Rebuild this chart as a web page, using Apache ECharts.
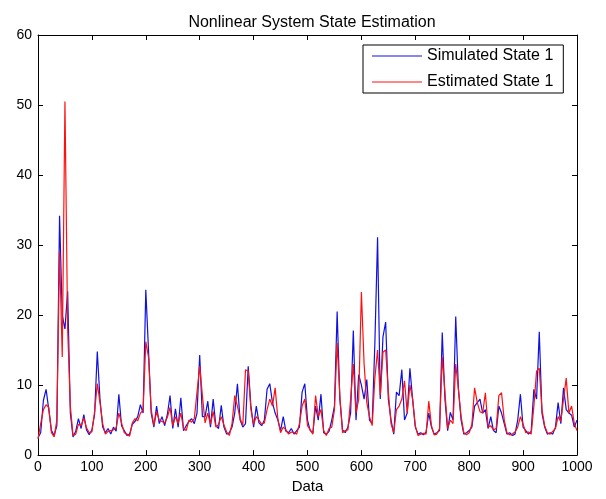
<!DOCTYPE html>
<html>
<head>
<meta charset="utf-8">
<script src="https://cdn.jsdelivr.net/npm/echarts@6/dist/echarts.min.js"></script>
<style>
html, body { margin: 0; padding: 0; background: #fff; }
#chart { width: 606px; height: 499px; }
</style>
</head>
<body>
<div id="chart"></div>
<script>
// one sample every 5 data steps, 0..1000
const step = 5
const xTicks = [0, 100, 200, 300, 400, 500, 600, 700, 800, 900, 1000]
const yTicks = [0, 10, 20, 30, 40, 50, 60]

const simulated = [
	2.5, 3.2, 7.8, 9.4, 6.5, 3.5, 2.8, 4.2, 34.2, 20, 18, 23.4, 6, 2.6, 3.4, 5.2, 3.8, 5.8, 3.6, 2.9,
	3.6, 5.8, 14.8, 8, 4, 3.2, 3.8, 3.0, 4.0, 3.4, 8.7, 4.2, 3.5, 2.8, 3.0, 4.4, 4.8, 5.5, 7.2, 6.0,
	23.6, 15, 6, 4, 7, 4.5, 5.5, 4.2, 5.8, 8.5, 3.8, 6.6, 4.0, 8.2, 3.5, 4.2, 4.8, 5.2, 4.5, 6.0,
	14.3, 5.5, 5.5, 7.7, 4.0, 8.0, 4.2, 3.8, 7.1, 4.0, 3.0, 3.2, 4.0, 6.0, 10.2, 5.0, 4.0, 4.5, 12.7, 7.0,
	4.0, 7.0, 4.6, 4.2, 5.0, 9.4, 10.2, 7.5, 6.0, 5.0, 3.5, 5.5, 3.4, 3.2, 3.8, 3.0, 3.5, 4.0, 9.0, 10.2,
	5.0, 3.5, 3.2, 7.0, 5.0, 8.7, 3.2, 3.0, 3.4, 5.0, 7.0, 20.5, 8.0, 3.6, 3.2, 4.0, 6.0, 17.8, 5.0, 11.5,
	10.0, 8.0, 10.8, 5.0, 4.5, 16.0, 31.1, 8.0, 16.9, 19.0, 8.0, 5.0, 3.0, 9.0, 8.5, 12.2, 5.0, 6.0, 12.4, 8.0,
	4.0, 3.0, 3.2, 2.9, 3.3, 6.0, 4.0, 3.0, 3.2, 3.5, 17.5, 8.0, 3.5, 6.1, 5.0, 19.8, 9.4, 5.0, 3.0, 3.2,
	3.5, 4.0, 7.0, 7.5, 8.0, 6.0, 6.5, 3.8, 5.5, 3.5, 3.2, 7.0, 6.0, 4.5, 3.0, 3.2, 2.8, 3.0, 5.0, 8.7,
	4.0, 3.5, 3.0, 3.4, 9.4, 8.0, 17.6, 6.0, 4.0, 3.0, 3.2, 3.0, 4.0, 7.5, 4.5, 9.6, 6.5, 6.0, 5.7, 4.0, 5.0
]

const estimated = [
	2.3, 4.5, 6.5, 7.2, 6.8, 3.2, 2.6, 5.0, 29, 14, 50.5, 18, 7, 2.8, 3.0, 4.4, 4.2, 5.3, 3.9, 3.2,
	3.3, 6.2, 10.2, 7.5, 4.5, 3.0, 3.4, 3.5, 3.6, 3.9, 6.0, 4.6, 3.2, 3.0, 2.7, 4.6, 5.2, 4.9, 6.0, 6.4,
	16.2, 14, 6.5, 4.2, 6.2, 5.0, 4.8, 4.6, 5.4, 6.8, 4.2, 5.5, 4.5, 6.0, 3.8, 3.5, 5.0, 4.7, 5.2, 9.0,
	12.7, 8.5, 4.6, 6.0, 4.4, 6.2, 4.0, 4.4, 5.5, 4.3, 3.3, 2.8, 4.5, 8.5, 7.0, 5.2, 4.3, 12.2, 12.0, 6.5,
	4.4, 5.5, 5.0, 4.4, 4.6, 6.5, 8.0, 7.0, 9.6, 5.2, 3.2, 4.0, 3.6, 3.0, 3.3, 3.2, 3.0, 4.5, 7.0, 8.0,
	4.2, 3.6, 3.0, 8.5, 5.5, 6.5, 3.5, 2.8, 3.8, 4.0, 6.5, 16.0, 8.5, 3.2, 3.5, 3.6, 8.0, 13.0, 6.0, 8.0,
	23.3, 13.0, 7.5, 5.5, 4.2, 11.0, 15.0, 8.5, 14.7, 15.0, 9.0, 4.5, 3.2, 6.5, 7.0, 8.0, 10.6, 6.0, 10.0, 8.0,
	4.2, 2.8, 3.0, 3.1, 3.0, 7.7, 4.2, 2.9, 3.0, 3.8, 14.0, 9.0, 3.8, 5.0, 4.5, 13.0, 9.4, 5.5, 3.2, 2.9,
	3.2, 4.4, 9.6, 7.5, 6.2, 6.0, 8.9, 4.0, 4.2, 3.6, 3.8, 8.5, 8.9, 5.0, 3.2, 2.9, 3.0, 3.3, 4.0, 5.5,
	4.4, 3.2, 3.3, 3.0, 7.0, 12.0, 12.4, 6.5, 4.2, 3.2, 3.0, 3.4, 3.8, 5.5, 4.8, 8.0, 11.0, 6.0, 7.0, 4.5, 3.5
]

const font = "Arial, 'Liberation Sans', sans-serif"
const chart = echarts.init(document.getElementById("chart"))

const xBase = {
	type: "value",
	min: xTicks[0],
	max: xTicks[xTicks.length - 1],
	interval: 100,
	splitLine: { show: false },
	axisLine: { show: true, onZero: false, lineStyle: { color: "#000", width: 1 } },
	axisTick: { show: true, inside: true, length: 5, lineStyle: { color: "#000" } }
}
const yBase = {
	type: "value",
	min: yTicks[0],
	max: yTicks[yTicks.length - 1],
	interval: 10,
	splitLine: { show: false },
	axisLine: { show: true, onZero: false, lineStyle: { color: "#000", width: 1 } },
	axisTick: { show: true, inside: true, length: 5, lineStyle: { color: "#000" } }
}

chart.setOption({
	animation: false,
	backgroundColor: "#fff",
	title: {
		text: "Nonlinear System State Estimation",
		left: 307,
		textAlign: "center",
		top: 10,
		textStyle: { fontFamily: font, fontSize: 16, fontWeight: "normal", color: "#000" }
	},
	grid: { left: 38, right: 29, top: 35, bottom: 39 },
	legend: {
		orient: "vertical",
		left: 363,
		top: 45,
		padding: [3, 10, 3, 9],
		itemGap: 10,
		itemWidth: 50,
		itemHeight: 1,
		icon: "rect",
		borderColor: "#000",
		borderWidth: 1,
		backgroundColor: "#fff",
		textStyle: { fontFamily: font, fontSize: 16, color: "#000" },
		data: ["Simulated State 1", "Estimated State 1"]
	},
	xAxis: [
		{
			...xBase,
			position: "bottom",
			name: "Data",
			nameLocation: "middle",
			nameGap: 22,
			nameTextStyle: { fontFamily: font, fontSize: 15, color: "#000" },
			axisLabel: { fontFamily: font, fontSize: 14, color: "#000", margin: 5, formatter: (v) => String(v) }
		},
		{ ...xBase, position: "top", axisLabel: { show: false } }
	],
	yAxis: [
		{
			...yBase,
			position: "left",
			axisLabel: { fontFamily: font, fontSize: 14, color: "#000", margin: 6 }
		},
		{ ...yBase, position: "right", axisLabel: { show: false } }
	],
	series: [
		{
			name: "Simulated State 1",
			type: "line",
			showSymbol: false,
			symbol: "none",
			color: "#1010e0",
			lineStyle: { width: 1.2 },
			data: simulated.map((v, i) => [i * step, v])
		},
		{
			name: "Estimated State 1",
			type: "line",
			showSymbol: false,
			symbol: "none",
			color: "#ff1010",
			lineStyle: { width: 1.2 },
			data: estimated.map((v, i) => [i * step, v])
		}
	]
})
</script>
</body>
</html>
